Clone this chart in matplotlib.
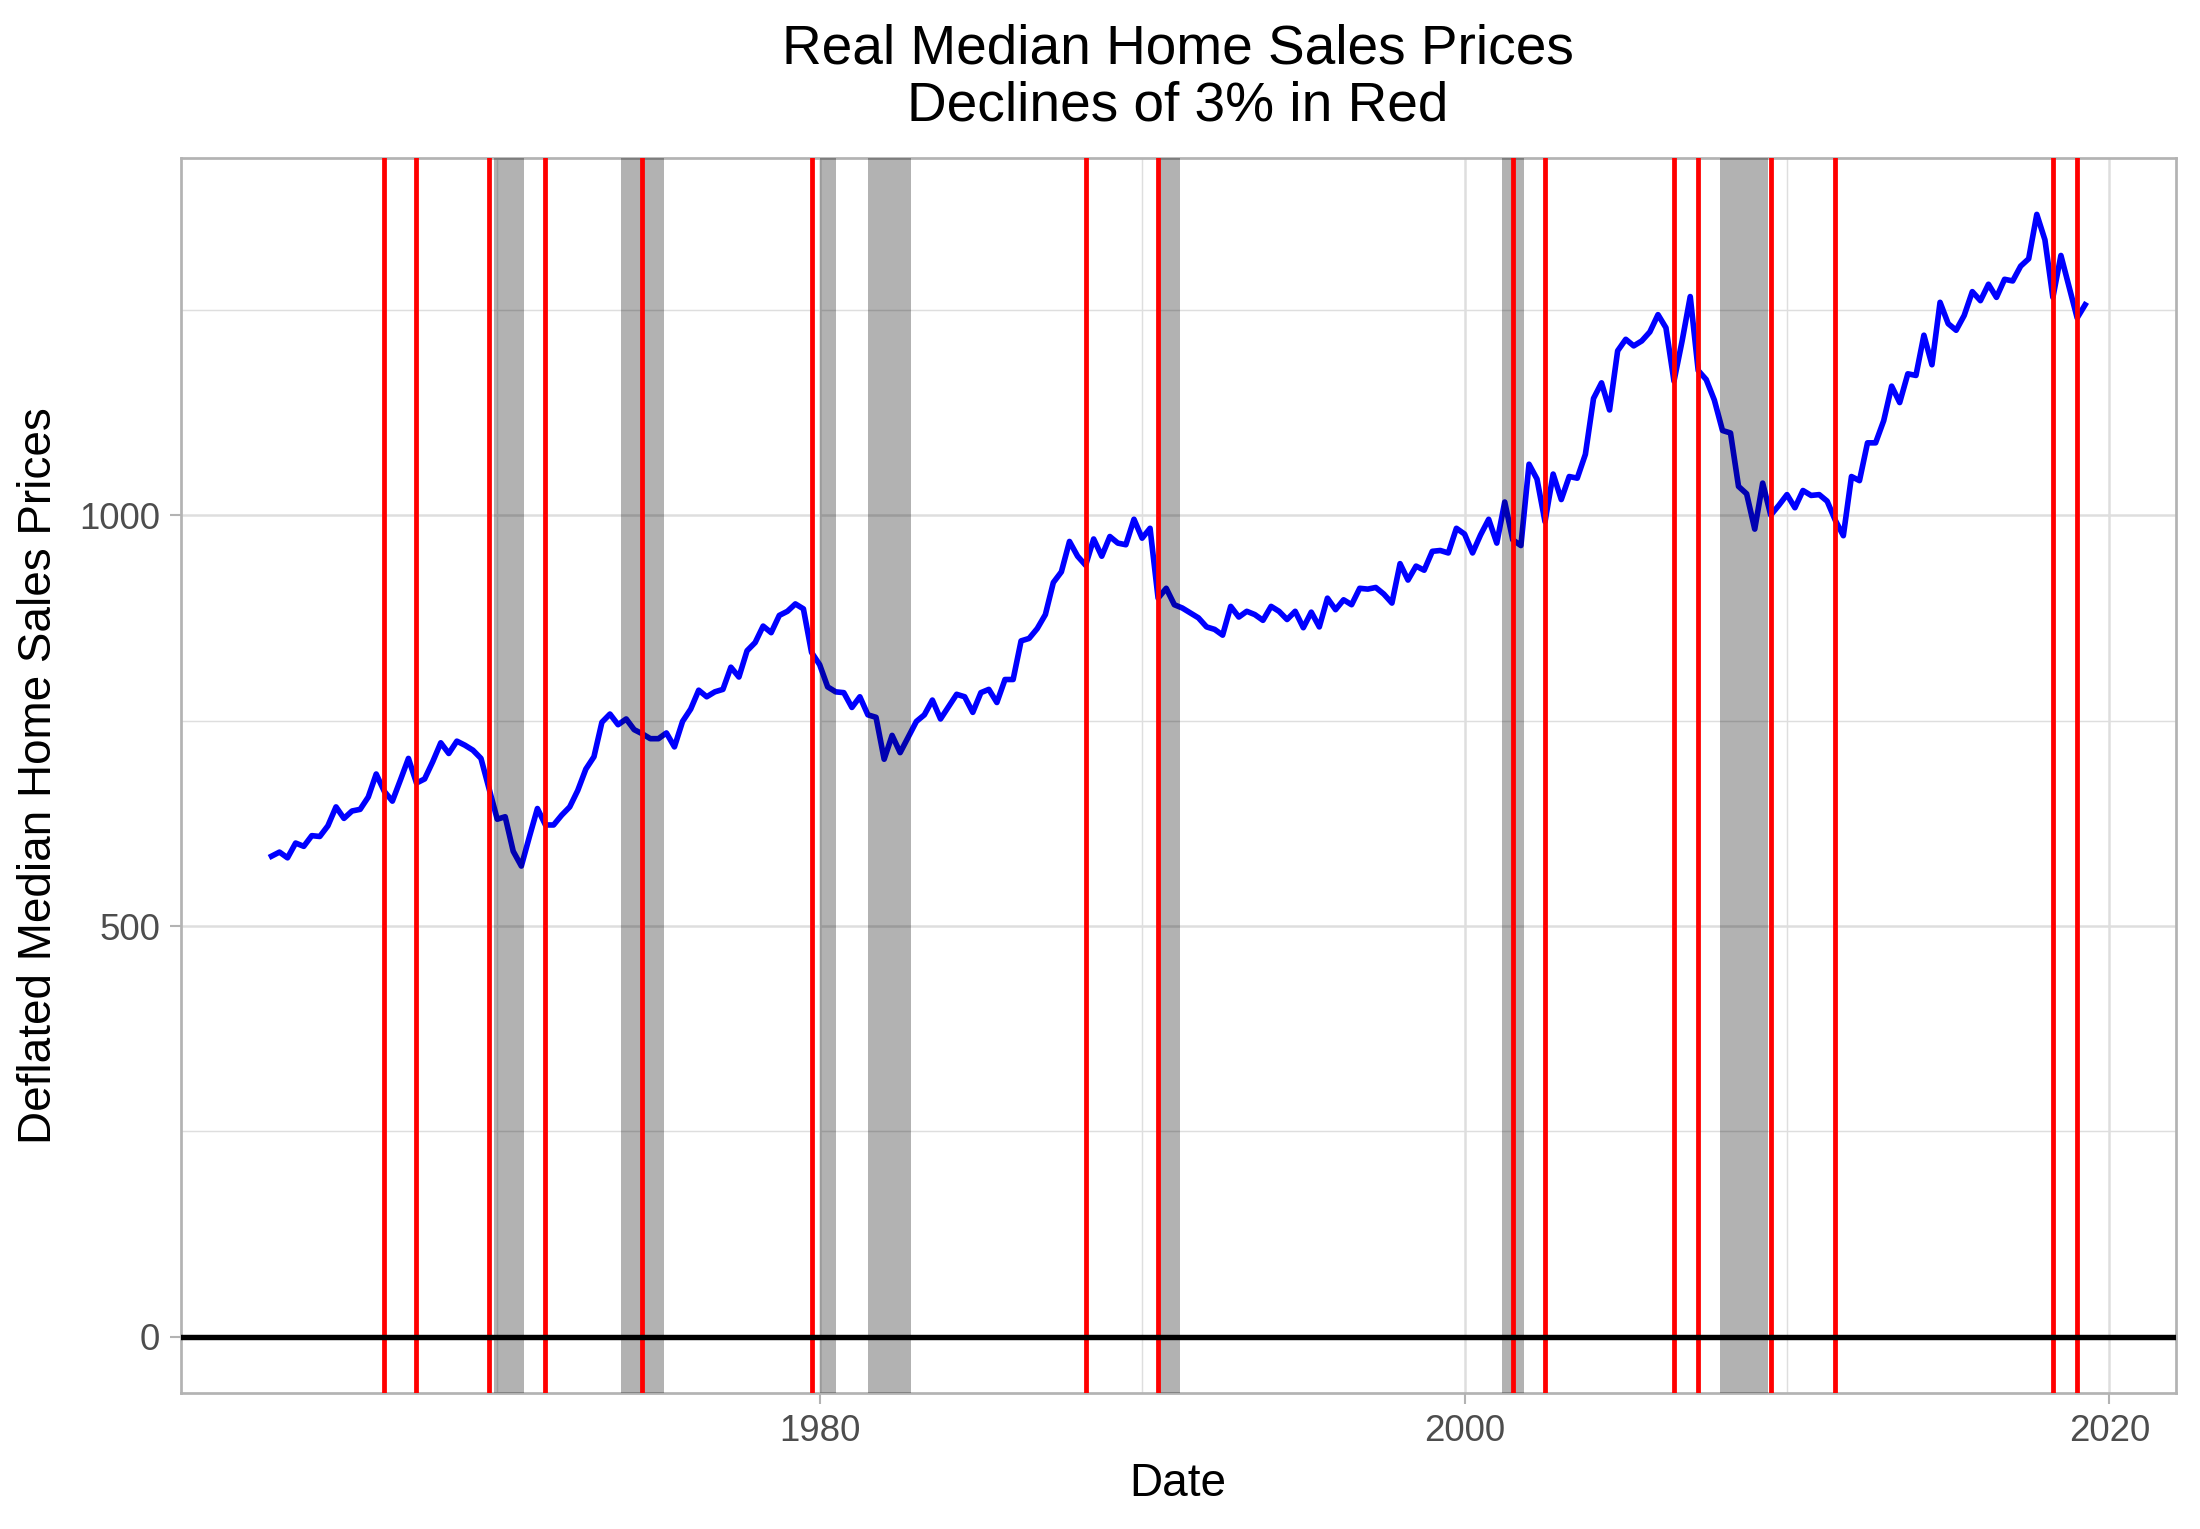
import numpy as np
import pandas as pd
import matplotlib
matplotlib.use('Agg')
import matplotlib.pyplot as plt

plt.rcParams['font.family'] = ['Liberation Sans', 'DejaVu Sans']

# quarterly real median home sales prices, 1963Q1 - 2019Q2
prices = [
    585, 590, 583, 601, 597, 610, 609, 622, 645, 631,
    640, 642, 657, 685, 664, 652, 678, 704, 674, 679,
    700, 723, 710, 725, 720, 714, 704, 667, 630, 633,
    591, 573, 609, 643, 623, 623, 635, 645, 665, 691,
    706, 748, 758, 745, 752, 739, 734, 728, 728, 735,
    718, 749, 764, 787, 779, 785, 788, 815, 803, 835,
    845, 865, 857, 878, 883, 892, 886, 833, 818, 791,
    785, 784, 766, 779, 757, 754, 703, 732, 711, 730,
    749, 757, 775, 752, 767, 782, 779, 760, 784, 788,
    772, 800, 800, 847, 850, 862, 879, 918, 931, 968,
    950, 939, 971, 950, 974, 966, 964, 995, 972, 984,
    899, 911, 891, 887, 881, 875, 864, 861, 854, 889,
    876, 883, 879, 872, 889, 883, 873, 883, 863, 882,
    864, 899, 885, 897, 891, 911, 910, 912, 904, 893,
    941, 921, 938, 933, 956, 957, 954, 984, 977, 954,
    976, 995, 966, 1016, 970, 963, 1062, 1044, 992, 1050,
    1019, 1047, 1045, 1074, 1142, 1161, 1128, 1200, 1214, 1206,
    1212, 1223, 1244, 1228, 1163, 1212, 1266, 1176, 1165, 1140,
    1103, 1100, 1035, 1026, 983, 1039, 1000, 1012, 1025, 1009,
    1030, 1024, 1025, 1017, 994, 975, 1047, 1042, 1088, 1088,
    1115, 1157, 1137, 1172, 1170, 1219, 1183, 1259, 1233, 1225,
    1243, 1272, 1261, 1281, 1265, 1287, 1285, 1303, 1312, 1366,
    1335, 1265, 1316, 1278, 1240, 1256,
]
start_date = '1963-01-01'

# NBER recessions (peak, trough)
rec_start = ['1969-12-01', '1973-11-01', '1980-01-01', '1981-07-01',
             '1990-07-01', '2001-03-01', '2007-12-01']
rec_end = ['1970-11-01', '1975-03-01', '1980-07-01', '1982-11-01',
           '1991-03-01', '2001-11-01', '2009-06-01']

# quarters flagged with a 3% decline
declines = ['1966-07-01', '1967-07-01', '1969-10-01', '1971-07-01',
            '1974-07-01', '1979-10-01', '1988-04-01', '1990-07-01',
            '2001-07-01', '2002-07-01', '2006-07-01', '2007-04-01',
            '2009-07-01', '2011-07-01', '2018-04-01', '2019-01-01']


def dec_year(d):
    d = pd.DatetimeIndex(d)
    ndays = np.where(d.is_leap_year, 366, 365)
    return np.asarray(d.year + (d.dayofyear - 1) / ndays)


dates = dec_year(pd.date_range(start_date, periods=len(prices), freq='QS'))
rs = dec_year(rec_start)
re_ = dec_year(rec_end)
dl = dec_year(declines)

fig = plt.figure(figsize=(2200 / 300, 1529 / 300), dpi=300)
ax = fig.add_axes([0.0822, 0.0889, 0.9068, 0.8076])

ax.plot(dates, prices, color='blue', lw=1.35, zorder=2)
for a, b in zip(rs, re_):
    ax.axvspan(a, b, color='black', alpha=0.3, lw=0, zorder=3)
for x in dl:
    ax.axvline(x, color='red', lw=1.15, zorder=4)
ax.axhline(0, color='black', lw=1.3, zorder=5)

# ggplot-style 5% expansion
xr = dates.max() - dates.min()
ax.set_xlim(dates.min() - 0.05 * xr, dates.max() + 0.05 * xr)
yr = max(prices) - 0
ax.set_ylim(0 - 0.05 * yr, max(prices) + 0.05 * yr)

ax.set_xticks([1980, 2000, 2020])
ax.set_xticks([1970, 1990, 2010], minor=True)
ax.set_yticks([0, 500, 1000])
ax.set_yticks([250, 750, 1250], minor=True)
ax.set_axisbelow(True)
ax.grid(which='major', color='#DEDEDE', lw=0.6)
ax.grid(which='minor', color='#DEDEDE', lw=0.35)
ax.tick_params(which='major', length=2.75, width=0.5, color='#B3B3B3',
               labelsize=8.8, labelcolor='#4D4D4D', pad=2.2)
ax.tick_params(which='minor', length=0)
for s in ax.spines.values():
    s.set_color('#B3B3B3')
    s.set_linewidth(0.65)

fig.text(0.5355, 0.9675, 'Real Median Home Sales Prices', ha='center',
         va='center', fontsize=13.2)
fig.text(0.5355, 0.9305, 'Declines of 3% in Red', ha='center',
         va='center', fontsize=13.2)
fig.text(0.5355, 0.0295, 'Date', ha='center', va='center', fontsize=11)
fig.text(0.0177, 0.4928, 'Deflated Median Home Sales Prices', ha='center',
         va='center', rotation=90, fontsize=11)

fig.savefig('out.png', dpi=300)
